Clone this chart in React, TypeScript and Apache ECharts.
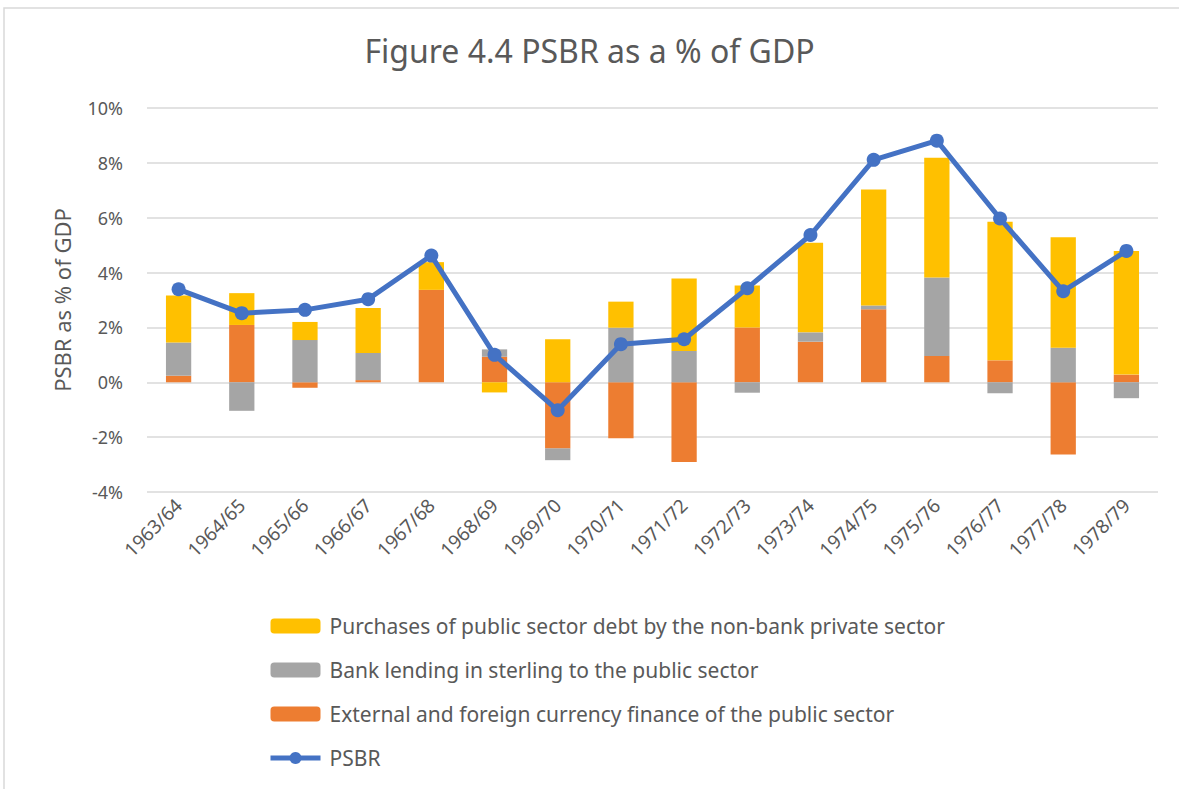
import React, { useEffect, useRef } from "react";
import * as echarts from "echarts";

const categories = ["1963/64","1964/65","1965/66","1966/67","1967/68","1968/69","1969/70","1970/71","1971/72","1972/73","1973/74","1974/75","1975/76","1976/77","1977/78","1978/79"];
const purchasesNonBank = [1.71, 1.16, 0.66, 1.64, 1.01, -0.37, 1.57, 0.95, 2.64, 1.53, 3.27, 4.23, 4.37, 5.05, 4.03, 4.51];
const bankLending = [1.21, -1.04, 1.54, 0.99, 0.0, 0.27, -0.43, 1.99, 1.14, -0.38, 0.34, 0.14, 2.86, -0.4, 1.26, -0.58];
const externalFinance = [0.24, 2.09, -0.2, 0.08, 3.37, 0.93, -2.41, -2.04, -2.91, 2.0, 1.48, 2.66, 0.96, 0.8, -2.63, 0.28];
const psbr = [3.39, 2.52, 2.64, 3.03, 4.62, 1.0, -1.02, 1.39, 1.57, 3.43, 5.37, 8.11, 8.81, 5.97, 3.32, 4.79];
const yTicks = { min: -4, max: 10, interval: 2 };

const NAME_P = "Purchases of public sector debt by the non-bank private sector";
const NAME_B = "Bank lending in sterling to the public sector";
const NAME_E = "External and foreign currency finance of the public sector";
const NAME_L = "PSBR";

const FONT = "'Noto Sans', sans-serif";
const TXT = "#595959";

export default function App() {
  const ref = useRef<HTMLDivElement>(null);
  useEffect(() => {
    if (!ref.current) return;
    const chart = echarts.init(ref.current, null, { renderer: "svg" });
    chart.setOption({
      animation: false,
      backgroundColor: "#ffffff",
      textStyle: { fontFamily: FONT },
      title: {
        text: "Figure 4.4 PSBR as a % of GDP",
        left: "center",
        top: 29,
        textStyle: { fontFamily: FONT, fontSize: 32, fontWeight: "normal", color: TXT },
      },
      graphic: [
        {
          type: "rect",
          shape: { x: 4, y: 8, width: 1190, height: 800 },
          style: { fill: "none", stroke: "#D9D9D9", lineWidth: 1.5 },
          silent: true,
        },
      ],
      grid: { left: 147, right: 21, top: 108, bottom: 297, containLabel: false },
      legend: {
        orient: "vertical",
        left: 268,
        top: 615,
        padding: 0,
        itemWidth: 50,
        itemHeight: 15,
        itemGap: 22,
        data: [
          NAME_P,
          NAME_B,
          NAME_E,
          { name: NAME_L, lineStyle: { width: 5 }, itemStyle: { color: "#4472C4" } },
        ],
        textStyle: { fontFamily: FONT, fontSize: 21, lineHeight: 22, color: TXT, padding: [0, 0, 0, 4] },
      },
      xAxis: {
        type: "category",
        data: categories,
        position: "bottom",
        axisLine: { show: false, onZero: false },
        axisTick: { show: false },
        axisLabel: { rotate: 45, fontFamily: FONT, fontSize: 19, color: TXT, margin: 10, interval: 0 },
      },
      yAxis: {
        type: "value",
        min: yTicks.min,
        max: yTicks.max,
        interval: yTicks.interval,
        name: "PSBR as % of GDP",
        nameLocation: "middle",
        nameGap: 74,
        nameTextStyle: { fontFamily: FONT, fontSize: 22, color: TXT },
        axisLine: { show: false },
        axisTick: { show: false },
        axisLabel: { formatter: (v: number) => v + "%", fontFamily: FONT, fontSize: 18, color: TXT, margin: 24 },
        splitLine: { lineStyle: { color: "#D9D9D9", width: 1.5 } },
      },
      series: [
        {
          name: NAME_E,
          type: "bar",
          stack: "total",
          data: externalFinance,
          barWidth: "40%",
          itemStyle: { color: "#ED7D31" },
        },
        {
          name: NAME_B,
          type: "bar",
          stack: "total",
          data: bankLending,
          barWidth: "40%",
          itemStyle: { color: "#A5A5A5" },
        },
        {
          name: NAME_P,
          type: "bar",
          stack: "total",
          data: purchasesNonBank,
          barWidth: "40%",
          itemStyle: { color: "#FFC000" },
        },
        {
          name: NAME_L,
          type: "line",
          data: psbr,
          z: 10,
          symbol: "circle",
          symbolSize: 14,
          lineStyle: { color: "#4472C4", width: 5 },
          itemStyle: { color: "#4472C4" },
        },
      ],
    });
    return () => chart.dispose();
  }, []);
  return <div ref={ref} style={{ position: "absolute", left: 0, top: 0, width: 1179, height: 789 }} />;
}
